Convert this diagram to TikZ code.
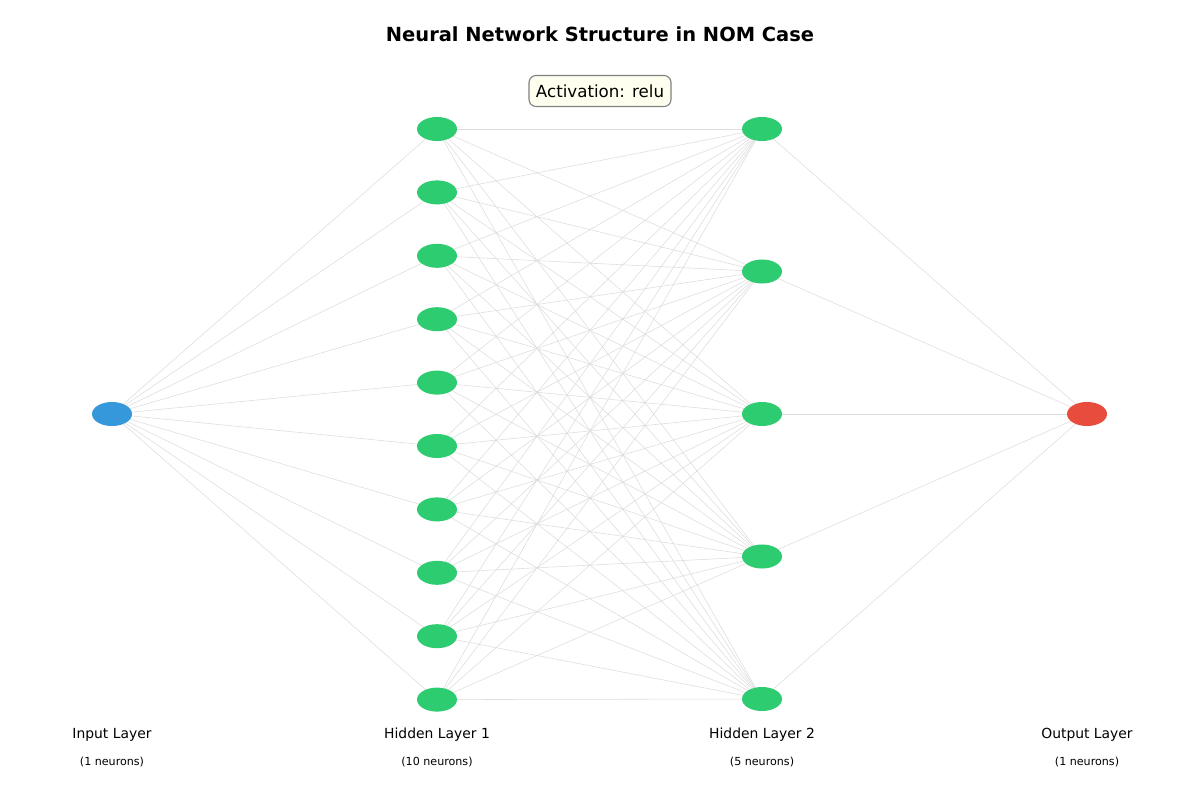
\documentclass[tikz,border=0pt]{standalone}
\usepackage{fontspec}
\setmainfont{DejaVu Sans}
\usetikzlibrary{shapes.geometric}
\begin{document}
\begin{tikzpicture}[x=0.72pt,y=-0.72pt,
  neuron/.style={ellipse,minimum width=28.8pt,minimum height=17.3pt,inner sep=0pt,draw=none},
  inneuron/.style={neuron,fill=inblue},
  hidneuron/.style={neuron,fill=hidgreen},
  outneuron/.style={neuron,fill=outred},
  conn/.style={draw=edgegray,line width=0.4pt},
  layerlabel/.style={font=\fontsize{10}{12}\selectfont,text=black},
  countlabel/.style={font=\fontsize{8}{10}\selectfont,text=black},
  actbox/.style={draw=boxgray,fill=boxfill,rounded corners=5pt,line width=0.8pt,inner xsep=5pt,inner ysep=6.5pt,font=\fontsize{12}{14}\selectfont}]
\definecolor{inblue}{HTML}{3498DB}
\definecolor{hidgreen}{HTML}{2ECC71}
\definecolor{outred}{HTML}{E74C3C}
\definecolor{edgegray}{HTML}{DDDDDD}
\definecolor{boxgray}{HTML}{808080}
\definecolor{boxfill}{HTML}{FFFFF0}
\useasboundingbox[fill=white] (0,0) rectangle (1200,800);
% node positions (coordinates first, so connectors lie beneath the neurons)
\coordinate (i1) at (112,414);
\foreach \k/\y in {1/129,2/192.4,3/255.8,4/319.2,5/382.6,6/446,7/509.4,8/572.8,9/636.2,10/699.6}
  \coordinate (a\k) at (437,\y);
\foreach \k/\y in {1/129,2/271.5,3/414,4/556.5,5/699}
  \coordinate (b\k) at (762,\y);
\coordinate (o1) at (1087,414);
% connectors
\foreach \k in {1,...,10} \draw[conn] (i1) -- (a\k);
\foreach \k in {1,...,10} \foreach \m in {1,...,5} \draw[conn] (a\k) -- (b\m);
\foreach \m in {1,...,5} \draw[conn] (b\m) -- (o1);
% neurons
\node[inneuron] (ni1) at (i1) {};
\foreach \k in {1,...,10} \node[hidneuron] (na\k) at (a\k) {};
\foreach \m in {1,...,5} \node[hidneuron] (nb\m) at (b\m) {};
\node[outneuron] (no1) at (o1) {};
% texts
\node[font=\bfseries\fontsize{14}{16}\selectfont] (title) at (600,34) {Neural Network Structure in NOM Case};
\node[actbox] (act) at (600,91) {Activation: relu};
\node[layerlabel] (l1) at (112,735) {Input Layer};
\node[countlabel] (c1) at (112,762) {(1 neurons)};
\node[layerlabel] (l2) at (437,735) {Hidden Layer 1};
\node[countlabel] (c2) at (437,762) {(10 neurons)};
\node[layerlabel] (l3) at (762,735) {Hidden Layer 2};
\node[countlabel] (c3) at (762,762) {(5 neurons)};
\node[layerlabel] (l4) at (1087,735) {Output Layer};
\node[countlabel] (c4) at (1087,762) {(1 neurons)};
\end{tikzpicture}
\end{document}
